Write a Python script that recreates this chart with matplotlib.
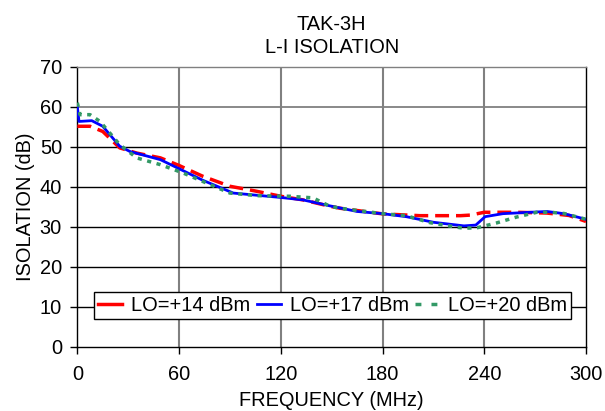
import matplotlib
matplotlib.use("Agg")
import matplotlib.pyplot as plt
from matplotlib.lines import Line2D
import numpy as np

plt.rcParams['font.family'] = ['Liberation Sans', 'DejaVu Sans']

x14 = [0, 7.5, 15, 25, 35, 49, 60, 74, 90, 104, 120, 133, 149, 155, 180, 202, 226, 232, 240, 259, 277, 290, 300]
y14 = [55.1, 55.1, 53.8, 49.7, 48.4, 47.2, 45.3, 42.6, 40.1, 39.0, 37.6, 36.7, 35.1, 34.6, 33.2, 32.75, 32.75, 32.9, 33.6, 33.6, 33.4, 32.8, 31.3]

x17 = [0, 1, 8.5, 15, 25, 31, 49, 59, 74, 92, 120, 133, 149, 165, 180, 194, 210, 228, 235, 240.5, 251, 267, 277, 287, 300]
y17 = [60, 56.3, 56.5, 55.1, 50.1, 48.8, 46.75, 44.7, 41.6, 38.4, 37.3, 36.7, 35.2, 33.8, 33.25, 32.5, 31.1, 30.2, 30.4, 32.5, 33.25, 33.6, 33.8, 33.25, 31.85]

x20 = [0, 1.6, 7.5, 13.4, 25, 35, 49, 62.5, 74, 90, 106, 125.5, 139, 149, 155, 180, 194, 208, 216, 228, 236, 247, 259, 271, 279, 287, 300]
y20 = [61, 58, 58, 56.3, 50.5, 47.2, 45.5, 43.4, 41.3, 38.4, 37.75, 37.6, 37.2, 35.1, 34.6, 33.25, 32.75, 31.0, 30.4, 29.6, 29.75, 30.9, 32.4, 33.6, 33.6, 33.3, 31.85]

labels = ['LO=+14 dBm', 'LO=+17 dBm', 'LO=+20 dBm']
xticks = [0, 60, 120, 180, 240, 300]
yticks = [0, 10, 20, 30, 40, 50, 60, 70]

FS = 14.4
RED, BLUE, GREEN = '#FF0000', '#0000FF', '#339966'

fig = plt.figure(figsize=(6.05, 4.11), dpi=100)
ax = fig.add_axes([0.1278, 0.1565, 0.8408, 0.6813])

ax.plot(x14, y14, color=RED, lw=2.5, ls=(0, (4, 2)), zorder=3)
ax.plot(x17, y17, color=BLUE, lw=2, ls='-', zorder=4)
ax.plot(x20, y20, color=GREEN, lw=2.5, ls=(0, (1.2, 1.6)), zorder=5)

ax.set_xlim(0, 300)
ax.set_ylim(0, 70)
ax.set_xticks(xticks)
ax.set_yticks(yticks)
for xv in xticks[1:-1]:
    ax.axvline(xv, color='#808080', lw=1.5, zorder=1)
for yv in yticks[1:-1]:
    ax.axhline(yv, color='#808080' if yv >= 60 else '#000000', lw=1.3 if yv >= 60 else 1.0, zorder=1)

for s in ax.spines.values():
    s.set_color('black')
    s.set_linewidth(1.0)
ax.spines['top'].set_color('#808080')
ax.tick_params(direction='out', length=5, width=1, labelsize=FS, pad=6)
ax.tick_params(axis='x', pad=8)

ax.set_xlabel('FREQUENCY (MHz)', fontsize=FS, labelpad=5)
ax.set_ylabel('ISOLATION (dB)', fontsize=FS, labelpad=3)
ax.set_title('TAK-3H\nL-I ISOLATION', fontsize=FS, pad=10, linespacing=1.25)

handles = [Line2D([], [], color=RED, lw=2.5, ls='-'),
           Line2D([], [], color=BLUE, lw=2, ls='-'),
           Line2D([], [], color=GREEN, lw=2.5, ls=(0, (1.7, 2.9)))]
leg = ax.legend(handles, labels, loc='center', bbox_to_anchor=(0.502, 0.148), ncol=3, fontsize=FS,
                frameon=True, fancybox=False, edgecolor='black', framealpha=1,
                handlelength=1.2, handletextpad=0.45, columnspacing=0.3,
                borderpad=0.2, borderaxespad=0)
leg.get_frame().set_linewidth(1.0)

fig.savefig('out.png', dpi=100)
